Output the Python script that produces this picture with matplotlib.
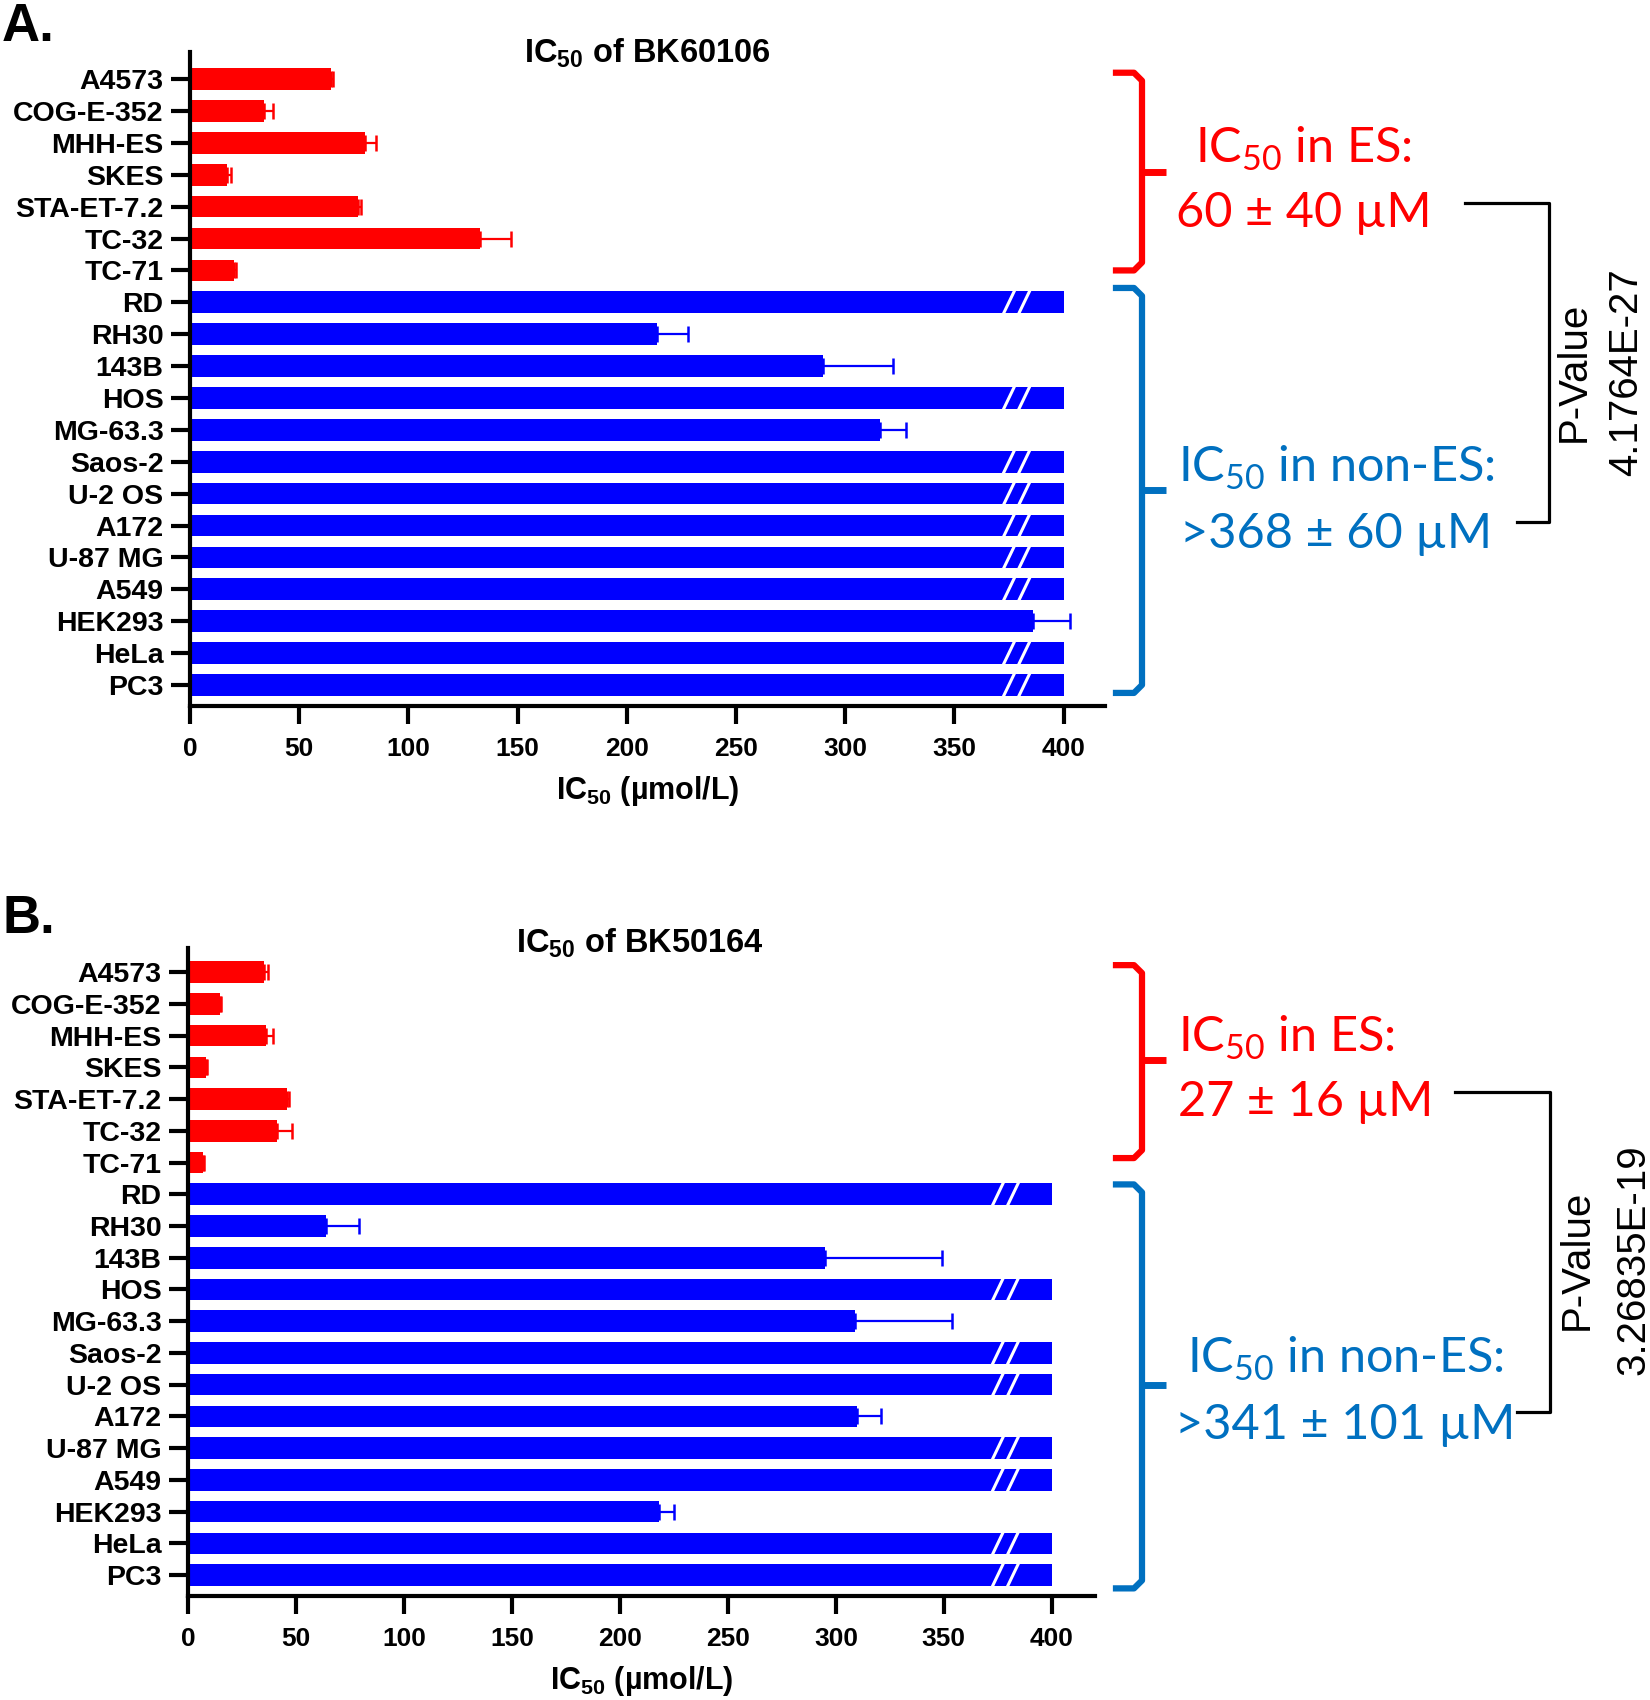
import matplotlib
matplotlib.use('Agg')
import matplotlib.pyplot as plt
from matplotlib.lines import Line2D
from matplotlib.transforms import blended_transform_factory
import numpy as np

# cell lines, top to bottom; the first 7 are Ewing sarcoma (ES) lines
cell_lines = ['A4573', 'COG-E-352', 'MHH-ES', 'SKES', 'STA-ET-7.2', 'TC-32', 'TC-71',
              'RD', 'RH30', '143B', 'HOS', 'MG-63.3', 'Saos-2', 'U-2 OS', 'A172',
              'U-87 MG', 'A549', 'HEK293', 'HeLa', 'PC3']
n_es = 7

# IC50 (umol/L) of BK60106, error (upper side only), and bars drawn cut (>400)
bk60106_ic50 = [64.5, 34, 80, 17, 77, 133, 20, 400, 214, 290, 400, 316, 400, 400, 400,
                400, 400, 386, 400, 400]
bk60106_err = [1, 4, 5, 2, 1.5, 14, 1, 0, 14, 32, 0, 12, 0, 0, 0, 0, 0, 17, 0, 0]
bk60106_cut = [0, 0, 0, 0, 0, 0, 0, 1, 0, 0, 1, 0, 1, 1, 1, 1, 1, 0, 1, 1]

# IC50 (umol/L) of BK50164
bk50164_ic50 = [35, 15, 36, 8.5, 46, 41, 7, 400, 64, 295, 400, 309, 400, 400, 310,
                400, 400, 218, 400, 400]
bk50164_err = [2, 0.5, 3.5, 0.5, 1, 7, 0.5, 0, 15, 54, 0, 45, 0, 0, 11, 0, 0, 7, 0, 0]
bk50164_cut = [0, 0, 0, 0, 0, 0, 0, 1, 0, 0, 1, 0, 1, 1, 0, 1, 1, 0, 1, 1]

x_ticks = [0, 50, 100, 150, 200, 250, 300, 350, 400]

W, H = 1650, 1700
RED = '#ff0000'
BLUE = '#0000ff'
NOTE_BLUE = '#0070c0'

plt.rcParams['font.family'] = ['Liberation Sans', 'DejaVu Sans']

fig = plt.figure(figsize=(W / 100, H / 100), dpi=100)


def fx(x):
    return x / W


def fy(y):
    return 1 - y / H


def draw_panel(rect, ylims, xmax, vals, errs, cut):
    ax = fig.add_axes(rect)
    ypos = np.arange(len(cell_lines))
    colors = [RED if i < n_es else BLUE for i in ypos]
    ax.barh(ypos, vals, height=0.68, color=colors, zorder=2)
    for i in ypos:
        if errs[i] > 0:
            ax.errorbar(vals[i], i, xerr=[[0], [errs[i]]], fmt='none', ecolor=colors[i],
                        elinewidth=1.6, capsize=5.5, capthick=1.8, zorder=3)
        if cut[i]:
            # "//" axis-break mark on the bar
            for c in (375, 382):
                ax.plot([c - 2.6, c + 2.6], [i + 0.37, i - 0.37], color='white', lw=2.2,
                        solid_capstyle='round', zorder=4)
    ax.set_xlim(0, xmax)
    ax.set_ylim(*ylims)
    ax.set_xticks(x_ticks)
    ax.set_yticks(ypos)
    ax.set_yticklabels(cell_lines)
    for s in ('top', 'right'):
        ax.spines[s].set_visible(False)
    for s in ('left', 'bottom'):
        ax.spines[s].set_linewidth(3)
    ax.tick_params(axis='y', length=14, width=3, pad=5, labelsize=20.5)
    ax.tick_params(axis='x', length=13, width=3, pad=9, labelsize=19)
    for lab in ax.get_xticklabels() + ax.get_yticklabels():
        lab.set_fontweight('bold')
    ax.set_xlabel(r'IC$_\mathregular{50}$ (µmol/L)', fontsize=22, fontweight='bold', labelpad=10)
    return ax


def brace(ax, top, bot, mid, color):
    tr = blended_transform_factory(fig.transFigure, ax.transData)
    xl, xv, xt = fx(1116), fx(1142), fx(1166)
    r = fx(8)
    ax.plot([xl, xv - r, xv, xv, xv - r, xl], [top, top, top + 0.25, bot - 0.25, bot, bot],
            color=color, lw=4.5, transform=tr, clip_on=False, solid_joinstyle='round')
    ax.plot([xv, xt], [mid, mid], color=color, lw=5, transform=tr, clip_on=False,
            solid_capstyle='butt')


def p_bracket(pts):
    xs = [fx(p[0]) for p in pts]
    ys = [fy(p[1]) for p in pts]
    fig.add_artist(Line2D(xs, ys, color='black', lw=2.3, transform=fig.transFigure))


note_font = dict(family=['Lato', 'DejaVu Sans'], fontsize=35)

# ---- panel A ----
axA = draw_panel([fx(190), fy(706), fx(1105) - fx(190), fy(52) - fy(706)],
                 (19.66, -0.85), 419, bk60106_ic50, bk60106_err, bk60106_cut)
fig.text(fx(2), fy(41), 'A.', fontsize=38, fontweight='bold', va='baseline')
fig.text(fx(647), fy(62), r'IC$_\mathregular{50}$ of BK60106', fontsize=23.5,
         fontweight='bold', ha='center', va='baseline')
brace(axA, -0.2, 6.0, 2.9, RED)
brace(axA, 6.55, 19.25, 12.9, NOTE_BLUE)
fig.text(fx(1303), fy(163), r'IC$_\mathregular{50}$ in ES:', color=RED, ha='center',
         va='baseline', **note_font)
fig.text(fx(1304), fy(227), '60 ± 40 µM', color=RED, ha='center', va='baseline', **note_font)
fig.text(fx(1336), fy(482), r'IC$_\mathregular{50}$ in non-ES:', color=NOTE_BLUE, ha='center',
         va='baseline', **note_font)
fig.text(fx(1336), fy(548), '>368 ± 60 µM', color=NOTE_BLUE, ha='center', va='baseline',
         **note_font)
p_bracket([(1465, 203), (1549, 203), (1549, 522), (1517, 522)])
fig.text(fx(1574), fy(372), 'P-Value', fontsize=29, rotation=90, ha='center', va='center')
fig.text(fx(1626), fy(372), '4.1764E-27', fontsize=29, rotation=90, ha='center', va='center')

# ---- panel B ----
axB = draw_panel([fx(188), fy(1596), fx(1095) - fx(188), fy(948) - fy(1596)],
                 (19.66, -0.76), 420, bk50164_ic50, bk50164_err, bk50164_cut)
fig.text(fx(2), fy(933), 'B.', fontsize=38, fontweight='bold', va='baseline')
fig.text(fx(640), fy(952), r'IC$_\mathregular{50}$ of BK50164', fontsize=23.5,
         fontweight='bold', ha='center', va='baseline')
brace(axB, -0.22, 5.86, 2.78, RED)
brace(axB, 6.69, 19.42, 13.0, NOTE_BLUE)
fig.text(fx(1178), fy(1052), r'IC$_\mathregular{50}$ in ES:', color=RED, ha='left',
         va='baseline', **note_font)
fig.text(fx(1178), fy(1116), '27 ± 16 µM', color=RED, ha='left', va='baseline', **note_font)
fig.text(fx(1345), fy(1373), r'IC$_\mathregular{50}$ in non-ES:', color=NOTE_BLUE, ha='center',
         va='baseline', **note_font)
fig.text(fx(1345), fy(1439), '>341 ± 101 µM', color=NOTE_BLUE, ha='center', va='baseline',
         **note_font)
p_bracket([(1455, 1092), (1550, 1092), (1550, 1412), (1517, 1412)])
fig.text(fx(1577), fy(1260), 'P-Value', fontsize=29, rotation=90, ha='center', va='center')
fig.text(fx(1633), fy(1260), '3.26835E-19', fontsize=29, rotation=90, ha='center', va='center')

fig.savefig('out.png', dpi=100, facecolor='white')
